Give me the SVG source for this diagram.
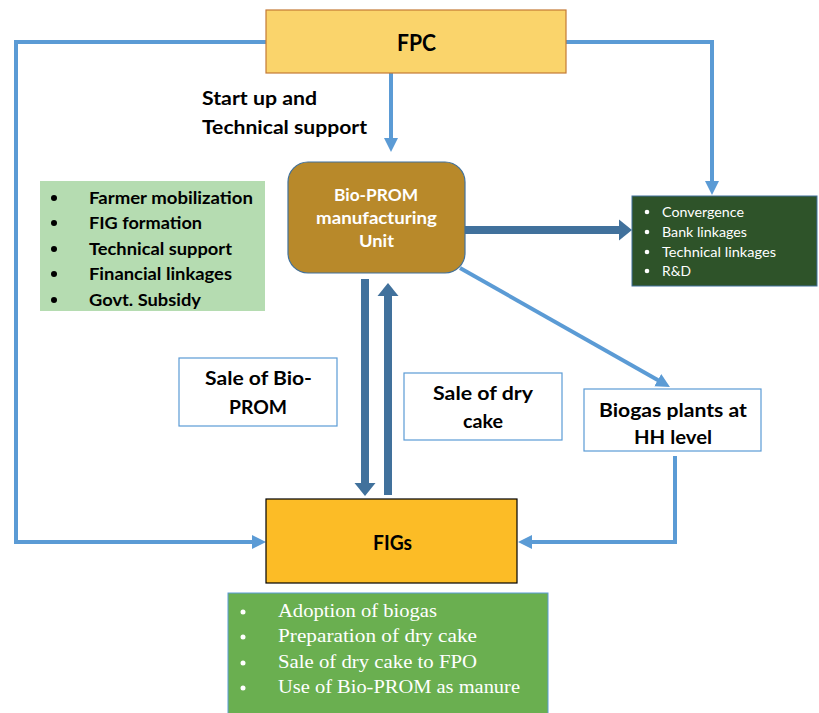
<svg xmlns="http://www.w3.org/2000/svg" width="819" height="713" viewBox="0 0 819 713">
<style>
.lb{fill:none;stroke:#5B9BD5;stroke-width:4}
.db{fill:none;stroke:#41719C;stroke-width:8}
.bold{font-family:Lato,"Open Sans",sans-serif;font-weight:bold;fill:#000}
.wt{font-family:Lato,"Open Sans",sans-serif;fill:#fff}
.sf{font-family:"Liberation Serif","DejaVu Serif",serif;fill:#fff;font-size:18.5px}
.mid{text-anchor:middle}
</style>
<defs>
<marker id="al" markerUnits="userSpaceOnUse" markerWidth="16" markerHeight="18" refX="6" refY="8" orient="auto">
<path d="M0,1 L14,8 L0,15 z" fill="#5B9BD5"/>
</marker>
<marker id="ad" markerUnits="userSpaceOnUse" markerWidth="16" markerHeight="24" refX="2" refY="11" orient="auto">
<path d="M0,0.5 L13,11 L0,21.5 z" fill="#41719C"/>
</marker>
</defs>
<g id="connectors">
<path class="lb" d="M266,42 H16 V542 H258" marker-end="url(#al)"/>
<path class="lb" d="M566,42 H712 V187" marker-end="url(#al)"/>
<path class="lb" d="M391,73 V144" marker-end="url(#al)"/>
<path class="lb" d="M460,268 L663,383" marker-end="url(#al)"/>
<path class="lb" d="M675,456 V542 H526" marker-end="url(#al)"/>
<path class="db" d="M465,230 H621" marker-end="url(#ad)"/>
<path class="db" d="M365,279 V485" marker-end="url(#ad)"/>
<path class="db" d="M388,495 V294" marker-end="url(#ad)"/>
</g>
<g id="fpc">
<rect x="266" y="10" width="300" height="63" fill="#FAD46B" stroke="#C47A35" stroke-width="1.2"/>
<text class="bold mid" x="416.5" y="51" font-size="23" textLength="39" lengthAdjust="spacingAndGlyphs">FPC</text>
</g>
<g id="startup-label">
<text class="bold" x="202" y="105" font-size="18.5" textLength="115" lengthAdjust="spacingAndGlyphs">Start up and</text>
<text class="bold" x="202" y="134" font-size="18.5" textLength="165" lengthAdjust="spacingAndGlyphs">Technical support</text>
</g>
<g id="activities">
<rect x="40" y="181" width="225" height="130" fill="#B5DCB1"/>
<g class="bold" font-size="17">
<circle cx="54" cy="198" r="3" fill="#000"/><text x="89" y="204" textLength="164" lengthAdjust="spacingAndGlyphs">Farmer mobilization</text>
<circle cx="54" cy="223" r="3" fill="#000"/><text x="89" y="229" textLength="113" lengthAdjust="spacingAndGlyphs">FIG formation</text>
<circle cx="54" cy="249" r="3" fill="#000"/><text x="89" y="255" textLength="143" lengthAdjust="spacingAndGlyphs">Technical support</text>
<circle cx="54" cy="274" r="3" fill="#000"/><text x="89" y="280" textLength="143" lengthAdjust="spacingAndGlyphs">Financial linkages</text>
<circle cx="54" cy="300" r="3" fill="#000"/><text x="89" y="306" textLength="112" lengthAdjust="spacingAndGlyphs">Govt. Subsidy</text>
</g>
</g>
<g id="bioprom">
<rect x="288" y="162" width="177" height="111" rx="20" fill="#B8892A" stroke="#41719C" stroke-width="1.2"/>
<g class="wt mid" font-size="17" font-weight="bold">
<text x="376" y="201" textLength="84" lengthAdjust="spacingAndGlyphs">Bio-PROM</text>
<text x="376.5" y="224" textLength="121" lengthAdjust="spacingAndGlyphs">manufacturing</text>
<text x="376.5" y="247" textLength="35" lengthAdjust="spacingAndGlyphs">Unit</text>
</g>
</g>
<g id="linkages">
<rect x="632" y="196" width="185" height="90" fill="#2E5329" stroke="#41719C" stroke-width="1"/>
<g class="wt" font-size="14">
<circle cx="647" cy="212" r="2.3" fill="#fff"/><text x="662" y="217" textLength="82" lengthAdjust="spacingAndGlyphs">Convergence</text>
<circle cx="647" cy="232" r="2.3" fill="#fff"/><text x="662" y="237" textLength="85" lengthAdjust="spacingAndGlyphs">Bank linkages</text>
<circle cx="647" cy="252" r="2.3" fill="#fff"/><text x="662" y="257" textLength="114" lengthAdjust="spacingAndGlyphs">Technical linkages</text>
<circle cx="647" cy="271" r="2.3" fill="#fff"/><text x="662" y="276" textLength="29" lengthAdjust="spacingAndGlyphs">R&amp;D</text>
</g>
</g>
<g id="sale-bioprom">
<rect x="179" y="358" width="158" height="68" fill="#fff" stroke="#5B9BD5" stroke-width="1.2"/>
<text class="bold mid" x="258.5" y="385" font-size="19" textLength="107" lengthAdjust="spacingAndGlyphs">Sale of Bio-</text>
<text class="bold mid" x="258" y="414" font-size="19" textLength="58" lengthAdjust="spacingAndGlyphs">PROM</text>
</g>
<g id="sale-drycake">
<rect x="404" y="373" width="158" height="67" fill="#fff" stroke="#5B9BD5" stroke-width="1.2"/>
<text class="bold mid" x="483" y="400" font-size="19" textLength="100" lengthAdjust="spacingAndGlyphs">Sale of dry</text>
<text class="bold mid" x="483" y="428" font-size="19" textLength="40" lengthAdjust="spacingAndGlyphs">cake</text>
</g>
<g id="biogas">
<rect x="584" y="389" width="177" height="62" fill="#fff" stroke="#5B9BD5" stroke-width="1.2"/>
<text class="bold mid" x="673" y="417" font-size="19" textLength="148" lengthAdjust="spacingAndGlyphs">Biogas plants at</text>
<text class="bold mid" x="673" y="444" font-size="19" textLength="78" lengthAdjust="spacingAndGlyphs">HH level</text>
</g>
<g id="figs">
<rect x="266" y="499" width="251" height="84" fill="#FCBC26" stroke="#000" stroke-width="1.2"/>
<text class="bold mid" x="392.5" y="550" font-size="21.5" textLength="39" lengthAdjust="spacingAndGlyphs">FIGs</text>
</g>
<g id="fig-activities">
<rect x="228" y="593" width="320" height="121" fill="#6AAF50" stroke="#5B9BD5" stroke-width="1"/>
<g class="sf">
<circle cx="243" cy="612" r="2.5" fill="#fff"/><text x="278" y="617" textLength="159" lengthAdjust="spacingAndGlyphs">Adoption of biogas</text>
<circle cx="243" cy="637" r="2.5" fill="#fff"/><text x="278" y="642" textLength="199" lengthAdjust="spacingAndGlyphs">Preparation of dry cake</text>
<circle cx="243" cy="663" r="2.5" fill="#fff"/><text x="278" y="668" textLength="199" lengthAdjust="spacingAndGlyphs">Sale of dry cake to FPO</text>
<circle cx="243" cy="688" r="2.5" fill="#fff"/><text x="278" y="693" textLength="242" lengthAdjust="spacingAndGlyphs">Use of Bio-PROM as manure</text>
</g>
</g>
</svg>
